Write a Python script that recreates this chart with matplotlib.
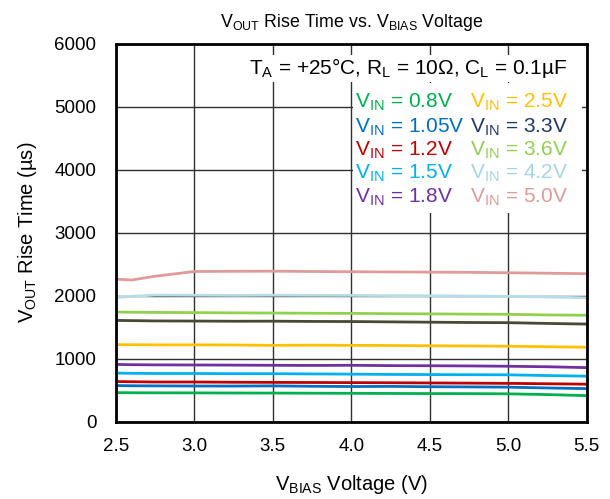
import matplotlib
matplotlib.use("Agg")
import matplotlib.pyplot as plt
from matplotlib.patches import Rectangle

plt.rcParams['font.family'] = ['Liberation Sans', 'DejaVu Sans']
plt.rcParams['mathtext.fontset'] = 'custom'
plt.rcParams['mathtext.rm'] = 'Liberation Sans'
plt.rcParams['mathtext.it'] = 'Liberation Sans'

vbias = [2.5, 2.6, 2.75, 3.0, 3.25, 3.5, 3.75, 4.0, 4.25, 4.5, 4.75, 5.0, 5.25, 5.5]

series_labels = ["0.8V", "1.05V", "1.2V", "1.5V", "1.8V", "2.5V", "3.3V", "3.6V", "4.2V", "5.0V"]
rise_0p8 = [461, 459, 458, 457, 455, 454, 452, 450, 448, 446, 445, 442, 430, 413]
rise_1p05 = [573, 570, 568, 566, 565, 568, 562, 558, 560, 555, 552, 548, 535, 525]
rise_1p2 = [637, 634, 630, 630, 626, 624, 622, 620, 618, 615, 612, 608, 602, 595]
rise_1p5 = [771, 768, 765, 765, 762, 762, 758, 755, 750, 748, 746, 744, 732, 723]
rise_1p8 = [909, 905, 902, 900, 898, 895, 893, 895, 890, 888, 885, 880, 872, 858]
rise_2p5 = [1224, 1222, 1220, 1220, 1218, 1212, 1215, 1212, 1210, 1205, 1202, 1198, 1190, 1182]
rise_3p3 = [1608, 1605, 1600, 1598, 1595, 1596, 1592, 1590, 1585, 1580, 1575, 1572, 1560, 1550]
rise_3p6 = [1741, 1738, 1735, 1732, 1728, 1725, 1722, 1720, 1715, 1712, 1708, 1705, 1695, 1690]
rise_4p2 = [1971, 1990, 2010, 2008, 2005, 2008, 2006, 2005, 2002, 2000, 1995, 1990, 1980, 1968]
rise_5p0 = [2264, 2250, 2310, 2385, 2388, 2390, 2385, 2381, 2378, 2375, 2372, 2365, 2358, 2350]

series = [rise_0p8, rise_1p05, rise_1p2, rise_1p5, rise_1p8,
          rise_2p5, rise_3p3, rise_3p6, rise_4p2, rise_5p0]
line_colors = ["#00b050", "#0070c0", "#c00000", "#00b0f0", "#7030a0",
               "#ffc000", "#4a4733", "#92d050", "#b7dde8", "#e09a9a"]
text_colors = ["#00b050", "#0070c0", "#c00000", "#00b0f0", "#7030a0",
               "#ffc000", "#1f3864", "#92d050", "#a5d5e5", "#e09a9a"]

fig = plt.figure(figsize=(6.10, 4.99), dpi=100)
ax = fig.add_axes([0.19, 0.155, 0.772, 0.757])

for vals, c in zip(series, line_colors):
    ax.plot(vbias, vals, color=c, lw=2.0, zorder=3, solid_capstyle='butt')

ax.set_xlim(2.5, 5.5)
ax.set_ylim(0, 6000)
ax.set_xticks([2.5, 3.0, 3.5, 4.0, 4.5, 5.0, 5.5])
ax.set_xticklabels(["2.5", "3.0", "3.5", "4.0", "4.5", "5.0", "5.5"])
ax.set_yticks([0, 1000, 2000, 3000, 4000, 5000, 6000])
ax.tick_params(axis='both', length=0, labelsize=13.5)
ax.tick_params(axis='x', pad=12)
ax.tick_params(axis='y', pad=14)
ax.grid(True, color='#303030', lw=1.0, zorder=1)
for s in ax.spines.values():
    s.set_linewidth(2.0)
    s.set_zorder(5)

ax.set_xlabel(r"V$_{\mathregular{BIAS}}$ Voltage (V)", fontsize=14.5, labelpad=13)
ax.set_ylabel(r"V$_{\mathregular{OUT}}$ Rise Time (µs)", fontsize=14.5, labelpad=11)
ax.set_title(r"V$_{\mathregular{OUT}}$ Rise Time vs. V$_{\mathregular{BIAS}}$ Voltage", fontsize=12.8, pad=12)

# white background area behind the legend block
ax.add_patch(Rectangle((0.504, 0.552), 0.486, 0.345, transform=ax.transAxes,
                       facecolor='white', edgecolor='none', zorder=2))
ax.text(0.621, 0.936, r"T$_{\mathregular{A}}$ = +25°C, R$_{\mathregular{L}}$ = 10Ω, C$_{\mathregular{L}}$ = 0.1µF",
        transform=ax.transAxes, ha='center', va='center', fontsize=15,
        bbox=dict(facecolor='white', edgecolor='none', pad=1), zorder=4)

row_y = [0.845, 0.780, 0.718, 0.657, 0.595]
for i, (lab, c) in enumerate(zip(series_labels, text_colors)):
    col = i // 5
    row = i % 5
    xpos = 0.508 if col == 0 else 0.752
    ax.text(xpos, row_y[row], r"V$_{\mathregular{IN}}$ = " + lab, transform=ax.transAxes,
            ha='left', va='center', fontsize=15, color=c, zorder=4)

fig.savefig("out.png", dpi=100)
